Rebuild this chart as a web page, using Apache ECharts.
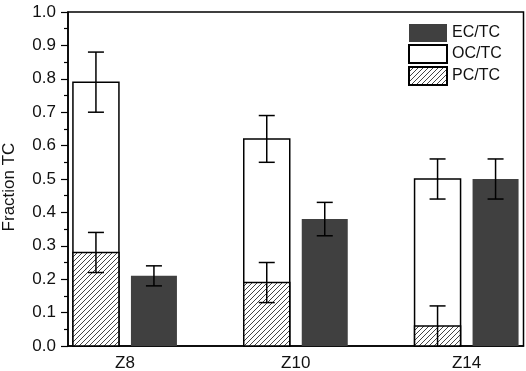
<!DOCTYPE html>
<html>
<head>
<meta charset="utf-8">
<script src="https://cdn.jsdelivr.net/npm/echarts@6/dist/echarts.min.js"></script>
<style>
  html, body { margin: 0; padding: 0; background: #fff; }
  #chart { width: 526px; height: 371px; }
</style>
</head>
<body>
<div id="chart"></div>
<script>
// Data
const sites = ['Z8', 'Z10', 'Z14']
const ocTc = [0.79, 0.62, 0.50]
const ocErr = [0.09, 0.07, 0.06]
const pcTc = [0.28, 0.19, 0.06]
const pcErr = [0.06, 0.06, 0.06]
const ecTc = [0.21, 0.38, 0.50]
const ecErr = [0.03, 0.05, 0.06]

const FONT = '"Liberation Sans", Arial, sans-serif'
const BAR_W = 46
const BAR_GAP = 12

// Hatch pattern for PC/TC
const hatch = document.createElement('canvas')
hatch.width = 5
hatch.height = 5
const hctx = hatch.getContext('2d')
hctx.fillStyle = '#fff'
hctx.fillRect(0, 0, 5, 5)
hctx.strokeStyle = '#444'
hctx.lineWidth = 1
hctx.beginPath()
hctx.moveTo(-1, 6); hctx.lineTo(6, -1)
hctx.moveTo(-1, 1); hctx.lineTo(1, -1)
hctx.moveTo(4, 6); hctx.lineTo(6, 4)
hctx.stroke()
const hatchFill = { image: hatch, repeat: 'repeat' }

const xs = sites.map((_, i) => i + 1)

// bars drawn on the value x axis; slot -1 = left bar, +1 = right bar
const barRenderer = slot => (params, api) => {
  const x = api.value(0)
  const top = api.coord([x, api.value(1)])
  const base = api.coord([x, 0])
  const cx = top[0] + slot * (BAR_W + BAR_GAP) / 2
  return {
    type: 'rect',
    shape: { x: cx - BAR_W / 2, y: top[1], width: BAR_W, height: base[1] - top[1] },
    style: api.style()
  }
}

// error bar data: [x, value, err, slot]
const errData = []
sites.forEach((_, i) => {
  errData.push([xs[i], ocTc[i], ocErr[i], -1])
  errData.push([xs[i], pcTc[i], pcErr[i], -1])
  errData.push([xs[i], ecTc[i], ecErr[i], 1])
})

const chart = echarts.init(document.getElementById('chart'))

const option = {
  animation: false,
  textStyle: { fontFamily: FONT },
  grid: {
    left: 68, right: 2.5, top: 12, bottom: 25,
    outerBoundsMode: 'none',
    show: true, borderColor: '#000', borderWidth: 1.5, backgroundColor: 'transparent'
  },
  legend: {
    data: ['EC/TC', 'OC/TC', 'PC/TC'],
    orient: 'vertical',
    left: 403, top: 19,
    itemWidth: 38, itemHeight: 18, itemGap: 2,
    icon: 'rect',
    textStyle: { fontFamily: FONT, fontSize: 16, color: '#111' }
  },
  xAxis: {
    type: 'value',
    min: 2 / 3, max: 10 / 3,
    splitLine: { show: false },
    axisLine: { show: true, lineStyle: { color: '#000', width: 1.5 } },
    axisTick: { show: false },
    axisLabel: {
      customValues: xs,
      formatter: v => sites[Math.round(v) - 1],
      fontSize: 17, color: '#111', margin: 9
    }
  },
  yAxis: {
    type: 'value',
    min: 0, max: 1, interval: 0.1,
    name: 'Fraction TC',
    nameLocation: 'middle',
    nameGap: 50,
    nameTextStyle: { fontSize: 17, color: '#111', padding: [0, 16, 0, 0] },
    axisLine: { show: true, lineStyle: { color: '#000', width: 1.5 } },
    axisTick: { show: true, length: 7, lineStyle: { color: '#000', width: 1.2 } },
    minorTick: { show: true, splitNumber: 2, length: 4, lineStyle: { color: '#000', width: 1.2 } },
    splitLine: { show: false },
    axisLabel: {
      formatter: v => v.toFixed(1),
      fontSize: 17, color: '#111', margin: 12
    }
  },
  series: [
    {
      name: 'OC/TC',
      type: 'custom',
      renderItem: barRenderer(-1),
      data: xs.map((x, i) => [x, ocTc[i]]),
      itemStyle: { color: '#fff', borderColor: '#000', borderWidth: 1.5 },
      z: 2
    },
    {
      name: 'PC/TC',
      type: 'custom',
      renderItem: barRenderer(-1),
      data: xs.map((x, i) => [x, pcTc[i]]),
      itemStyle: { color: hatchFill, borderColor: '#000', borderWidth: 1.5 },
      z: 3
    },
    {
      name: 'EC/TC',
      type: 'custom',
      renderItem: barRenderer(1),
      data: xs.map((x, i) => [x, ecTc[i]]),
      itemStyle: { color: '#404040' },
      z: 2
    },
    {
      name: 'err',
      type: 'custom',
      z: 10,
      silent: true,
      data: errData,
      renderItem: (params, api) => {
        const x = api.value(0)
        const v = api.value(1)
        const e = api.value(2)
        const slot = api.value(3)
        const dx = slot * (BAR_W + BAR_GAP) / 2
        const hi = api.coord([x, v + e])
        const lo = api.coord([x, Math.max(0, v - e)])
        const cx = hi[0] + dx
        const cap = 8
        const style = { stroke: '#000', lineWidth: 1.5, fill: null }
        const children = [
          { type: 'line', shape: { x1: cx, y1: hi[1], x2: cx, y2: lo[1] }, style },
          { type: 'line', shape: { x1: cx - cap, y1: hi[1], x2: cx + cap, y2: hi[1] }, style }
        ]
        if (v - e > 0.001) {
          children.push({ type: 'line', shape: { x1: cx - cap, y1: lo[1], x2: cx + cap, y2: lo[1] }, style })
        }
        return { type: 'group', children }
      }
    }
  ]
}

chart.setOption(option)
</script>
</body>
</html>
